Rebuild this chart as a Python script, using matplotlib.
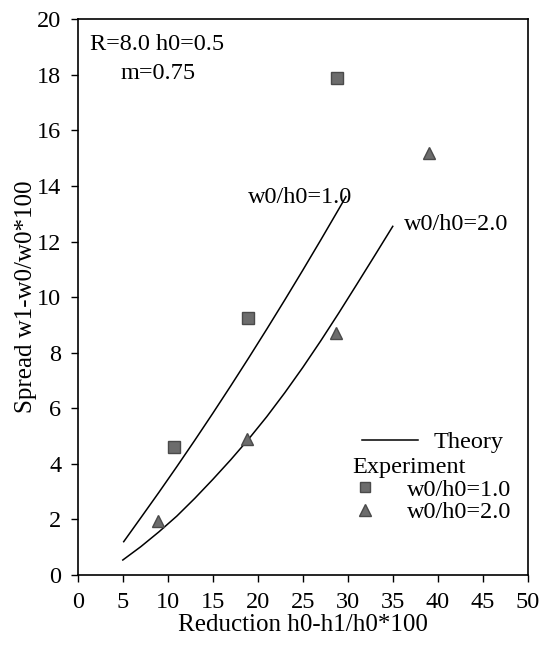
import matplotlib
matplotlib.use("Agg")
import matplotlib.pyplot as plt
from matplotlib.lines import Line2D

plt.rcParams['font.family'] = ['Liberation Serif', 'DejaVu Serif']

# experiment points
sq_x = [10.7, 18.9, 28.8]
sq_y = [4.6, 9.25, 17.9]
tri_x = [8.9, 18.8, 28.7, 39.0]
tri_y = [1.95, 4.9, 8.7, 15.2]

# theory curves
th1_x = [5.1, 7, 9, 11, 13, 15, 17, 19, 21, 23, 25, 27, 29, 29.8]
th1_y = [1.2, 2.06, 2.97, 3.9, 4.85, 5.82, 6.81, 7.82, 8.85, 9.9, 10.97, 12.06, 13.17, 13.62]
th2_x = [5, 7, 9, 11, 13, 15, 17, 19, 21, 23, 25, 27, 29, 31, 33, 35]
th2_y = [0.54, 1.02, 1.55, 2.12, 2.76, 3.44, 4.15, 4.9, 5.7, 6.56, 7.47, 8.43, 9.43, 10.46, 11.5, 12.55]

grey = '#6c6c6c'

fig = plt.figure(figsize=(5.48, 6.45), dpi=100)
ax = fig.add_axes([0.142, 0.1085, 0.821, 0.8615])

ax.plot(th1_x, th1_y, color='black', lw=1.1)
ax.plot(th2_x, th2_y, color='black', lw=1.1)
ax.plot(sq_x, sq_y, 's', color=grey, mec='#4a4a4a', ms=8, ls='none')
ax.plot(tri_x, tri_y, '^', color=grey, mec='#4a4a4a', ms=9, ls='none')

ax.set_xlim(0, 50)
ax.set_ylim(0, 20)
ax.set_xticks(range(0, 51, 5))
ax.set_yticks(range(0, 21, 2))
ax.tick_params(direction='out', length=5, width=1, labelsize=17.5, pad=7)
for s in ax.spines.values():
    s.set_linewidth(1.2)
ax.set_xlabel('Reduction h0-h1/h0*100', fontsize=18, labelpad=1)
ax.set_ylabel('Spread w1-w0/w0*100', fontsize=18, labelpad=0)

ax.text(1.33, 19.1, 'R=8.0 h0=0.5', fontsize=17.5, va='center')
ax.text(4.73, 18.05, 'm=0.75', fontsize=17.5, va='center')
ax.text(18.9, 13.57, 'w0/h0=1.0', fontsize=17.5, va='center')
ax.text(36.3, 12.62, 'w0/h0=2.0', fontsize=17.5, va='center')

leg1 = ax.legend([Line2D([], [], color='black', lw=1.1)], ['Theory'],
                 loc='upper left', bbox_to_anchor=(0.631, 0.259), frameon=False,
                 fontsize=17.5, handlelength=2.3, handletextpad=0.64,
                 borderaxespad=0, borderpad=0)
ax.add_artist(leg1)
ax.legend([Line2D([], [], marker='s', color=grey, mec='#4a4a4a', ls='none', ms=7),
           Line2D([], [], marker='^', color=grey, mec='#4a4a4a', ls='none', ms=8)],
          ['w0/h0=1.0', 'w0/h0=2.0'], title='Experiment', title_fontsize=17.5,
          alignment='left', loc='upper left', bbox_to_anchor=(0.611, 0.212),
          frameon=False, fontsize=17.5, handlelength=1.0, handletextpad=1.23,
          labelspacing=0.02, borderaxespad=0, borderpad=0)

fig.savefig('out.png', dpi=100)
